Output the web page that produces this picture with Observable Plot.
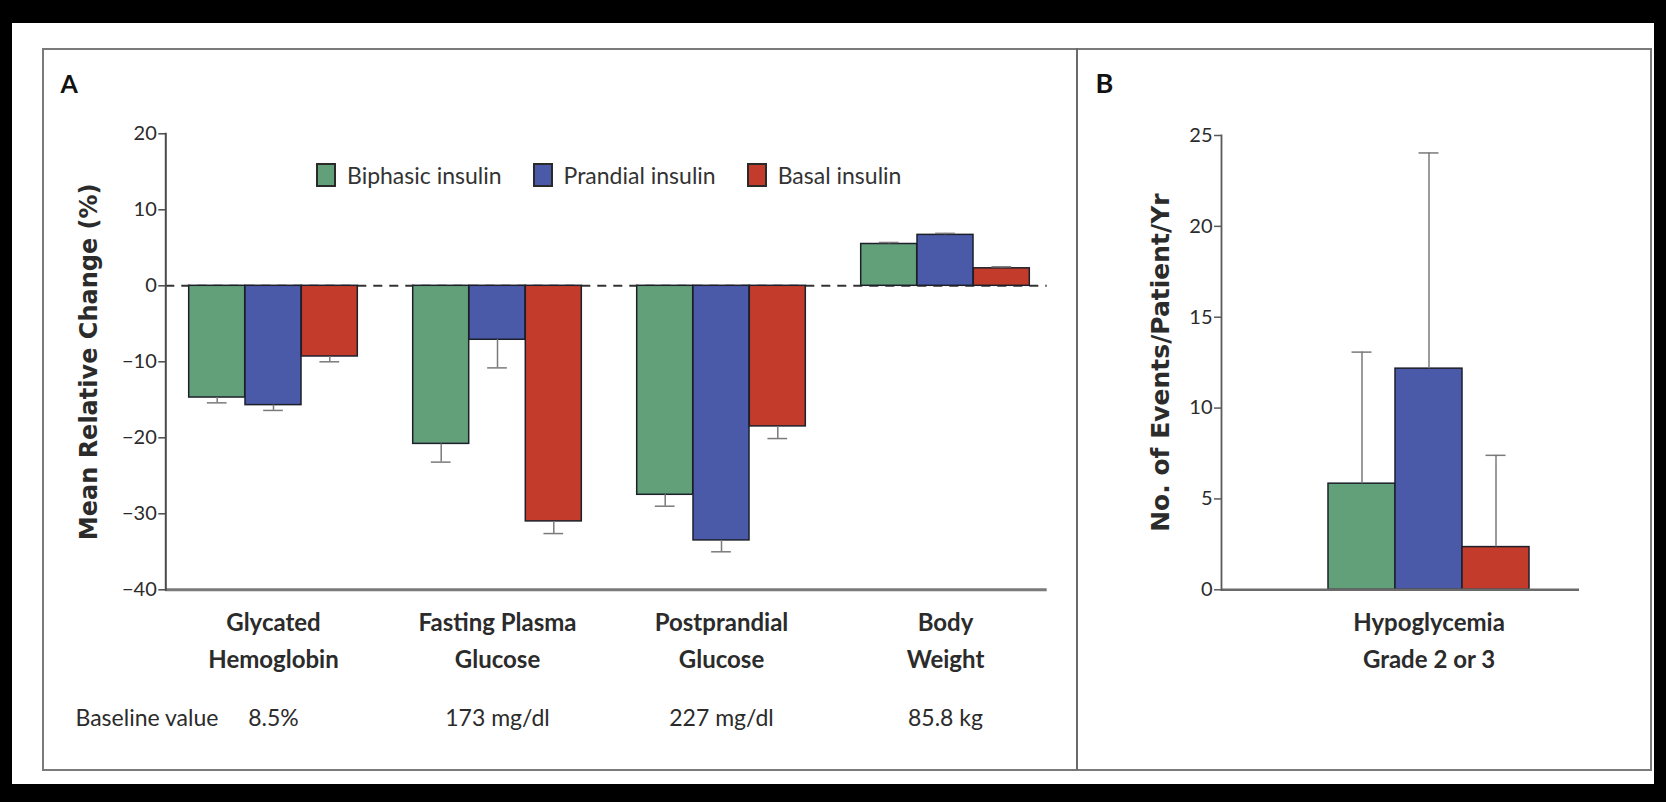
<!DOCTYPE html>
<html>
<head>
<meta charset="utf-8">
<script src="https://cdn.jsdelivr.net/npm/d3@7"></script>
<script src="https://cdn.jsdelivr.net/npm/@observablehq/plot@0.6"></script>
<style>
  html, body { margin: 0; padding: 0; background: #000; }
  #page { position: relative; width: 1666px; height: 802px; overflow: hidden; background: #000; font-family: Lato, "Noto Sans", sans-serif; }
  #sheet { position: absolute; left: 12px; top: 23px; width: 1642px; height: 761px; background: #fff; }
  #panel { position: absolute; left: 42px; top: 48px; width: 1606px; height: 719px; border: 2px solid #7a7a7a; }
  #divider { position: absolute; left: 1076px; top: 48px; width: 2px; height: 722px; background: #6a6a6a; }
  .plot { position: absolute; left: 0; top: 0; }
  .plot svg { overflow: visible; }
  #legend { position: absolute; left: 316px; top: 162px; display: flex; align-items: center; gap: 31px; }
  #legend .item { display: flex; align-items: center; }
  #legend .sw { width: 20px; height: 24px; box-sizing: border-box; border: 2px solid #2a2a2a; margin-right: 11px; }
  #legend .lab { font-family: Lato, sans-serif; font-size: 23px; line-height: 26px; color: #333; white-space: nowrap; }
</style>
</head>
<body>
<div id="page">
  <div id="sheet"></div>
  <div id="panel"></div>
  <div id="divider"></div>
  <div id="plotA" class="plot"></div>
  <div id="plotB" class="plot"></div>
  <div id="legend"></div>
</div>
<script>
// ---- Data ----
const categories = ["Glycated\nHemoglobin", "Fasting Plasma\nGlucose", "Postprandial\nGlucose", "Body\nWeight"];
const baselineValues = ["8.5%", "173 mg/dl", "227 mg/dl", "85.8 kg"];
const series = ["Biphasic insulin", "Prandial insulin", "Basal insulin"];
const colors = ["#62a07a", "#4a5aa8", "#c33c2b"];

// Panel A: mean relative change (%) and end of error bar
const biphasicChange = [-14.7, -20.8, -27.5, 5.5];
const prandialChange = [-15.7, -7.1, -33.5, 6.7];
const basalChange    = [-9.3, -31.0, -18.5, 2.3];
const biphasicErr = [-15.4, -23.2, -29.0, 5.7];
const prandialErr = [-16.4, -10.8, -35.0, 6.9];
const basalErr    = [-10.0, -32.6, -20.1, 2.5];
const yTicksA = [20, 10, 0, -10, -20, -30, -40];

// Panel B: hypoglycemia events/patient/yr
const hypoCategory = ["Hypoglycemia\nGrade 2 or 3"];
const hypoRate = [5.84, 12.17, 2.35];
const hypoErr  = [13.08, 24.04, 7.4];
const yTicksB = [0, 5, 10, 15, 20, 25];

// ---- Build tables ----
const changes = [biphasicChange, prandialChange, basalChange];
const errs = [biphasicErr, prandialErr, basalErr];
const dataA = series.flatMap((s, si) => categories.map((c, ci) => ({
  series: s, si, category: c, value: changes[si][ci], err: errs[si][ci]
})));
const dataB = series.map((s, si) => ({series: s, si, category: hypoCategory[0], value: hypoRate[si], err: hypoErr[si]}));

const font = "Lato, 'Noto Sans', sans-serif";
const ink = "#2b2b2b";
const barStroke = "#1d1f2b";
const errStroke = "#7a7a7a";

// band geometry helper: step, bar width and first band start -> padding/align
function bandOptions(n, left, right, step, bw, firstStart) {
  const W = right - left;
  const pi = n > 1 ? 1 - bw / step : 0;
  const s = n > 1 ? step : bw;
  const slack = W - s * (n - pi);
  return {paddingInner: pi, paddingOuter: slack / (2 * s), align: (firstStart - left) / slack};
}

// ---- Panel A ----
const A = {width: 1077, height: 802, top: 133.3, bottom: 589.3, left: 165.3, right: 1046.7};
const stepA = 224.33, bwA = 56.3;
const bandA = bandOptions(categories.length, A.left, A.right, stepA, bwA, 272.5 - bwA / 2);

const marksA = [
  Plot.ruleY([0], {stroke: "#333", strokeWidth: 2, strokeDasharray: "9,7"}),
  ...series.map((s, si) => Plot.barY(dataA.filter(d => d.si === si), {
    x: "category", y: "value", fill: colors[si], stroke: barStroke, strokeWidth: 1.5, dx: (si - 1) * bwA
  })),
  ...series.map((s, si) => Plot.ruleX(dataA.filter(d => d.si === si), {
    x: "category", y1: "value", y2: "err", stroke: errStroke, strokeWidth: 1.5, dx: (si - 1) * bwA
  })),
  ...series.map((s, si) => Plot.tickY(dataA.filter(d => d.si === si), {
    x: "category", y: "err", stroke: errStroke, strokeWidth: 1.5, dx: (si - 1) * bwA, inset: (bwA - 20) / 2
  })),
  Plot.ruleY([-40], {stroke: "#7a7a7a", strokeWidth: 3}),
  Plot.frame({anchor: "left", stroke: "#4a4a4a", strokeWidth: 2}),
  Plot.axisY({ticks: yTicksA, tickSize: 7, tickPadding: 2, fontSize: 20, stroke: "#4a4a4a", strokeWidth: 1.5, fill: ink, fontFamily: font}),
  Plot.text(["Mean Relative Change (%)"], {frameAnchor: "left", textAnchor: "middle", lineAnchor: "middle", rotate: -90, dx: 89 - A.left, fontFamily: "'DejaVu Sans', sans-serif", fontWeight: "bold", fontSize: 24, fill: ink}),
  Plot.text(categories, {x: d => d, text: d => d, frameAnchor: "bottom", lineAnchor: "middle", dy: 47.5, lineHeight: 1.55, fontSize: 24, fontWeight: "bold", fontFamily: font, fill: ink}),
  Plot.text(categories, {x: d => d, text: (d, i) => baselineValues[i], frameAnchor: "bottom", lineAnchor: "middle", dy: 129, fontSize: 23, fontFamily: font, fill: ink}),
  Plot.text(["Baseline value"], {frameAnchor: "bottom-left", textAnchor: "start", lineAnchor: "middle", dx: 75 - A.left, dy: 129, fontSize: 23, fontFamily: font, fill: ink}),
  Plot.text(["A"], {frameAnchor: "top-left", textAnchor: "start", lineAnchor: "middle", dx: 60 - A.left, dy: 84 - A.top, fontSize: 25, fontWeight: "bold", fontFamily: font, fill: "#111"})
];

const plotA = Plot.plot({
  width: A.width, height: A.height,
  marginTop: A.top, marginBottom: A.height - A.bottom, marginLeft: A.left, marginRight: A.width - A.right,
  style: {background: "transparent", fontFamily: font, overflow: "visible"},
  x: {domain: categories, ...bandA, axis: null},
  y: {domain: [-40, 20], axis: null},
  marks: marksA
});
document.getElementById("plotA").append(plotA);

// ---- Panel B ----
const B = {width: 1666, height: 802, top: 135, bottom: 589.3, left: 1221, right: 1579};
const bwB = 67;
const bandB = bandOptions(1, B.left, B.right, bwB, bwB, 1428.8 - bwB / 2);

const marksB = [
  ...series.map((s, si) => Plot.barY(dataB.filter(d => d.si === si), {
    x: "category", y: "value", fill: colors[si], stroke: barStroke, strokeWidth: 1.5, dx: (si - 1) * bwB
  })),
  ...series.map((s, si) => Plot.ruleX(dataB.filter(d => d.si === si), {
    x: "category", y1: "value", y2: "err", stroke: errStroke, strokeWidth: 1.5, dx: (si - 1) * bwB
  })),
  ...series.map((s, si) => Plot.tickY(dataB.filter(d => d.si === si), {
    x: "category", y: "err", stroke: errStroke, strokeWidth: 1.5, dx: (si - 1) * bwB, inset: (bwB - 20) / 2
  })),
  Plot.ruleY([0], {stroke: "#6a6a6a", strokeWidth: 2.5}),
  Plot.frame({anchor: "left", stroke: "#5a5a5a", strokeWidth: 1.8}),
  Plot.axisY({ticks: yTicksB, tickSize: 7, tickPadding: 2, fontSize: 20, stroke: "#5a5a5a", strokeWidth: 1.5, fill: ink, fontFamily: font}),
  Plot.text(["No. of Events/Patient/Yr"], {frameAnchor: "left", textAnchor: "middle", lineAnchor: "middle", rotate: -90, dx: 1160 - B.left, fontFamily: "'DejaVu Sans', sans-serif", fontWeight: "bold", fontSize: 25, fill: ink}),
  Plot.text(hypoCategory, {x: d => d, text: d => d, frameAnchor: "bottom", lineAnchor: "middle", dy: 47.5, lineHeight: 1.55, fontSize: 24, fontWeight: "bold", fontFamily: font, fill: ink}),
  Plot.text(["B"], {frameAnchor: "top-left", textAnchor: "start", lineAnchor: "middle", dx: 1095 - B.left, dy: 84 - B.top, fontSize: 27, fontWeight: "bold", fontFamily: font, fill: "#111"})
];

const plotB = Plot.plot({
  width: B.width, height: B.height,
  marginTop: B.top, marginBottom: B.height - B.bottom, marginLeft: B.left, marginRight: B.width - B.right,
  style: {background: "transparent", fontFamily: font, overflow: "visible"},
  x: {domain: hypoCategory, ...bandB, axis: null},
  y: {domain: [0, 25], axis: null},
  marks: marksB
});
document.getElementById("plotB").append(plotB);

// ---- Legend ----
const legend = document.getElementById("legend");
series.forEach((s, si) => {
  const item = document.createElement("div");
  item.className = "item";
  const sw = document.createElement("div");
  sw.className = "sw";
  sw.style.background = colors[si];
  const lab = document.createElement("span");
  lab.className = "lab";
  lab.textContent = s;
  item.append(sw, lab);
  legend.append(item);
});
</script>
</body>
</html>
